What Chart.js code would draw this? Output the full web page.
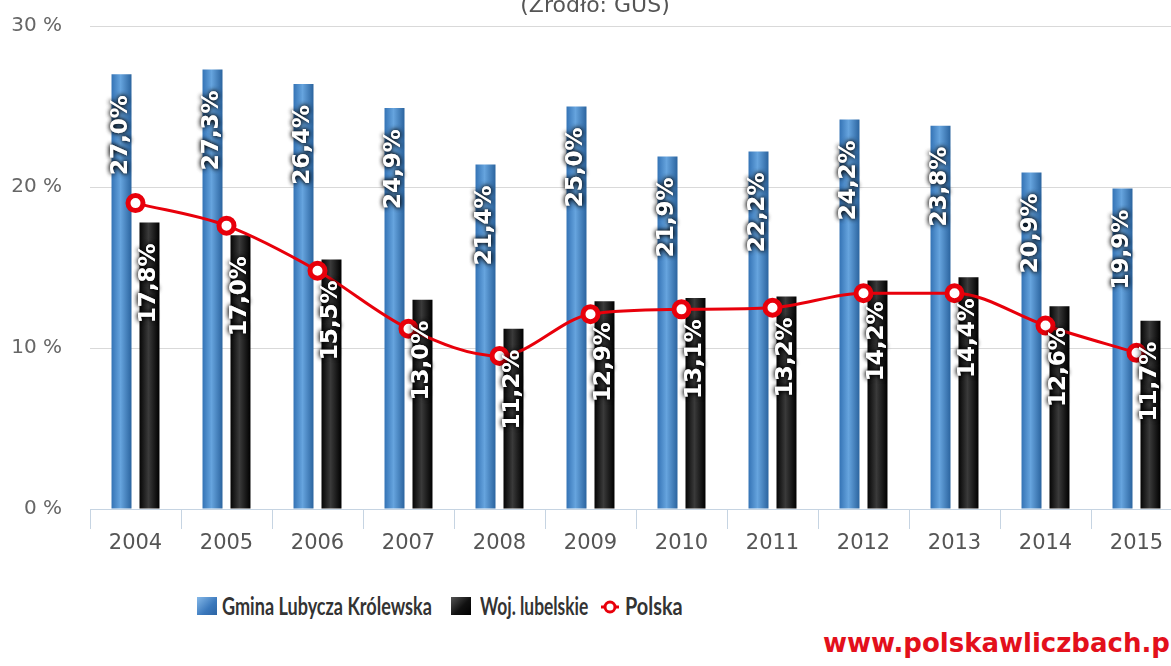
<!DOCTYPE html>
<html>
<head>
<meta charset="utf-8">
<script src="https://cdn.jsdelivr.net/npm/chart.js@4/dist/chart.umd.min.js"></script>
<style>
  html, body { margin: 0; padding: 0; background: #fff; overflow: hidden; }
  #wrap { position: relative; width: 1171px; height: 666px; overflow: hidden; }
  #chart { position: absolute; left: 0; top: 0; }
  #title { position: absolute; left: 0; top: -6px; width: 1190px; text-align: center;
           font: 22px/22px "DejaVu Sans", sans-serif; color: #555; }
  .lg-text { position: absolute; top: 594px; white-space: nowrap; transform-origin: 0 0;
             font: bold 24px/24px Lato, "DejaVu Sans", sans-serif; color: #333; }
  .lg-box { position: absolute; top: 597px; width: 20px; height: 18px; }
  #site { position: absolute; left: 823px; top: 630px; white-space: nowrap;
          font: bold 26px/26px "DejaVu Sans", sans-serif; color: #e3101b; }
</style>
</head>
<body>
<div id="wrap">
  <canvas id="chart" width="1200" height="560"></canvas>
  <div id="title">(Źródło: GUS)</div>

  <div class="lg-box" style="left:197px;background:linear-gradient(135deg,#86b9e9,#3a78bc 60%,#2c64a3)"></div>
  <div class="lg-text" data-w="210" style="left:222px">Gmina Lubycza Królewska</div>
  <div class="lg-box" style="left:451px;background:linear-gradient(135deg,#555,#111 55%,#000)"></div>
  <div class="lg-text" data-w="108" style="left:480px">Woj. lubelskie</div>
  <canvas id="lgLine" width="20" height="20" style="position:absolute;left:600px;top:597px"></canvas>
  <div class="lg-text" data-w="58" style="left:625px">Polska</div>

  <div id="site">www.polskawliczbach.pl</div>
</div>

<script>
// dane (stopa bezrobocia, %)
const years = ['2004', '2005', '2006', '2007', '2008', '2009', '2010', '2011', '2012', '2013', '2014', '2015'];
const gminaValues  = [27.0, 27.3, 26.4, 24.9, 21.4, 25.0, 21.9, 22.2, 24.2, 23.8, 20.9, 19.9];
const wojValues    = [17.8, 17.0, 15.5, 13.0, 11.2, 12.9, 13.1, 13.2, 14.2, 14.4, 12.6, 11.7];
const polskaValues = [19.0, 17.6, 14.8, 11.2, 9.5, 12.1, 12.4, 12.5, 13.4, 13.4, 11.4, 9.7];
const yTicks = [0, 10, 20, 30];

const CAT_PCT = 0.615;
const BAR_PCT = 0.714;
const RED = '#e8000b';
const BLUE_STOPS = ['#3473b5', '#66a4de', '#2b649f'];
const BLACK_STOPS = ['#050505', '#3a3a3a', '#000000'];

// poziomy gradient na slupku (side: -1 lewy, +1 prawy)
function barFill(ctx, side, stops) {
    const chart = ctx.chart;
    const xs = chart.scales.x;
    if (!chart.chartArea || !xs || ctx.type !== 'data') return stops[1];
    const cw = xs.width / years.length;
    const slot = cw * CAT_PCT / 2;
    const cx = xs.getPixelForValue(ctx.dataIndex) + side * slot / 2;
    const half = slot * BAR_PCT / 2;
    const g = chart.ctx.createLinearGradient(cx - half, 0, cx + half, 0);
    g.addColorStop(0, stops[0]);
    g.addColorStop(0.45, stops[1]);
    g.addColorStop(1, stops[2]);
    return g;
}

// obrocone etykiety wartosci w slupkach
const barLabels = {
    id: 'barLabels',
    afterDatasetsDraw(chart) {
        const c = chart.ctx;
        c.save();
        c.font = 'bold 23px "DejaVu Sans"';
        c.fillStyle = '#fff';
        c.textAlign = 'right';
        c.textBaseline = 'middle';
        c.shadowColor = 'rgba(0,0,0,0.9)';
        c.shadowBlur = 5;
        [0, 1].forEach(i => {
            const meta = chart.getDatasetMeta(i);
            const vals = chart.data.datasets[i].data;
            meta.data.forEach((bar, j) => {
                const txt = vals[j].toFixed(1).replace('.', ',') + '%';
                c.save();
                c.translate(bar.x, bar.y + 21);
                c.rotate(-Math.PI / 2);
                c.fillText(txt, 0, 0);
                c.fillText(txt, 0, 0);
                c.restore();
            });
        });
        c.restore();
    }
};

new Chart(document.getElementById('chart'), {
    data: {
        labels: years,
        datasets: [
            { type: 'bar', label: 'Gmina Lubycza Królewska', data: gminaValues, order: 1,
              backgroundColor: c => barFill(c, -1, BLUE_STOPS),
              barPercentage: BAR_PCT, categoryPercentage: CAT_PCT },
            { type: 'bar', label: 'Woj. lubelskie', data: wojValues, order: 2,
              backgroundColor: c => barFill(c, 1, BLACK_STOPS),
              barPercentage: BAR_PCT, categoryPercentage: CAT_PCT },
            { type: 'line', label: 'Polska', data: polskaValues, order: 0,
              borderColor: RED, borderWidth: 3, cubicInterpolationMode: 'monotone',
              pointRadius: 7.5, pointBorderWidth: 5, pointBackgroundColor: '#fff', pointBorderColor: RED }
        ]
    },
    options: {
        responsive: false,
        animation: false,
        layout: { padding: { top: 26, right: 18, left: 0, bottom: 0 } },
        plugins: { legend: { display: false }, tooltip: { enabled: false } },
        scales: {
            x: {
                grid: { drawOnChartArea: false, drawTicks: true, tickLength: 20, color: '#c6d4e2', offset: true },
                border: { color: '#c6d4e2' },
                ticks: { color: '#555', font: { family: 'DejaVu Sans', size: 21 }, padding: 2 },
                afterFit: s => { s.height = 51; }
            },
            y: {
                min: 0, max: 30,
                afterBuildTicks: s => { s.ticks = yTicks.map(v => ({ value: v })); },
                ticks: { padding: 2, color: '#666', font: { family: 'DejaVu Sans', size: 20 }, callback: v => v + ' %' },
                grid: { color: '#d9d9d9', drawTicks: true, tickLength: 26, tickColor: 'rgba(0,0,0,0)' },
                border: { display: false },
                afterFit: s => { s.width = 90; }
            }
        }
    },
    plugins: [barLabels]
});

// znacznik "Polska" w legendzie
(function () {
    const c = document.getElementById('lgLine').getContext('2d');
    c.strokeStyle = RED;
    c.lineWidth = 3;
    c.beginPath(); c.moveTo(1, 10); c.lineTo(19, 10); c.stroke();
    c.fillStyle = '#fff';
    c.beginPath(); c.arc(10, 10, 5, 0, Math.PI * 2); c.fill(); c.stroke();
})();

// zwezenie tekstu legendy do szerokosci z oryginalu
document.querySelectorAll('.lg-text').forEach(el => {
    const w = el.offsetWidth;
    el.style.transform = 'scaleX(' + (el.dataset.w / w) + ')';
});
</script>
</body>
</html>
